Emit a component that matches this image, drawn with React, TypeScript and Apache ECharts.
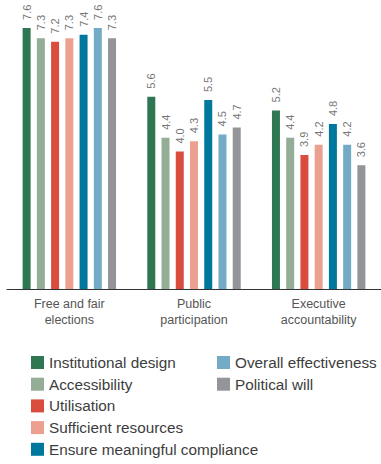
import React, { useEffect, useRef } from "react";
import * as echarts from "echarts";

const categories = ["Free and fair\nelections", "Public\nparticipation", "Executive\naccountability"];

const seriesNames = [
  "Institutional design",
  "Accessibility",
  "Utilisation",
  "Sufficient resources",
  "Ensure meaningful compliance",
  "Overall effectiveness",
  "Political will",
];

const seriesColors = ["#2e7752", "#93ad96", "#d94c3e", "#eca08f", "#00789e", "#73aac5", "#939598"];

const institutionalDesign = [7.6, 5.6, 5.2];
const accessibility = [7.3, 4.4, 4.4];
const utilisation = [7.2, 4.0, 3.9];
const sufficientResources = [7.3, 4.3, 4.2];
const meaningfulCompliance = [7.4, 5.5, 4.8];
const overallEffectiveness = [7.6, 4.5, 4.2];
const politicalWill = [7.3, 4.7, 3.6];

const seriesValues = [
  institutionalDesign,
  accessibility,
  utilisation,
  sufficientResources,
  meaningfulCompliance,
  overallEffectiveness,
  politicalWill,
];

const FONT = "'Liberation Sans', Arial, sans-serif";

export default function App() {
  const ref = useRef<HTMLDivElement>(null);

  useEffect(() => {
    if (!ref.current) return;
    const chart = echarts.init(ref.current, null, { renderer: "svg" });

    const legendCommon = {
      orient: "vertical" as const,
      top: 355,
      height: 120,
      itemWidth: 13,
      itemHeight: 13,
      itemGap: 6.7,
      icon: "rect",
      textStyle: { fontFamily: FONT, fontSize: 15.3, color: "#3d3d3d" },
      padding: 0,
    };

    chart.setOption({
      animation: false,
      backgroundColor: "#ffffff",
      grid: { left: 7, right: -3, top: 14.2, bottom: 175 },
      legend: [
        { ...legendCommon, left: 31, data: seriesNames.slice(0, 5) },
        { ...legendCommon, left: 217, data: seriesNames.slice(5) },
      ],
      xAxis: {
        type: "category",
        data: categories,
        axisLine: { lineStyle: { color: "#333333", width: 1 } },
        axisTick: {
          inside: true,
          length: 6,
          lineStyle: { color: "#333333" },
          interval: (index: number) => index !== 0,
        },
        axisLabel: {
          fontFamily: FONT,
          fontSize: 12.5,
          color: "#555555",
          lineHeight: 16,
          margin: 7,
        },
      },
      yAxis: {
        type: "value",
        min: 0,
        max: 8,
        show: false,
      },
      series: seriesNames.map((name, i) => ({
        name,
        type: "bar",
        data: seriesValues[i],
        barWidth: 8,
        barGap: "78%",
        itemStyle: { color: seriesColors[i] },
        label: {
          show: true,
          position: "top",
          rotate: 90,
          align: "left",
          verticalAlign: "middle",
          distance: 8,
          fontFamily: FONT,
          fontSize: 11,
          color: "#777777",
          formatter: (p: any) => p.value.toFixed(1),
        },
      })),
    });

    return () => chart.dispose();
  }, []);

  return (
    <div
      ref={ref}
      style={{ position: "fixed", left: 0, top: 0, width: 381, height: 464, background: "#fff" }}
    />
  );
}
